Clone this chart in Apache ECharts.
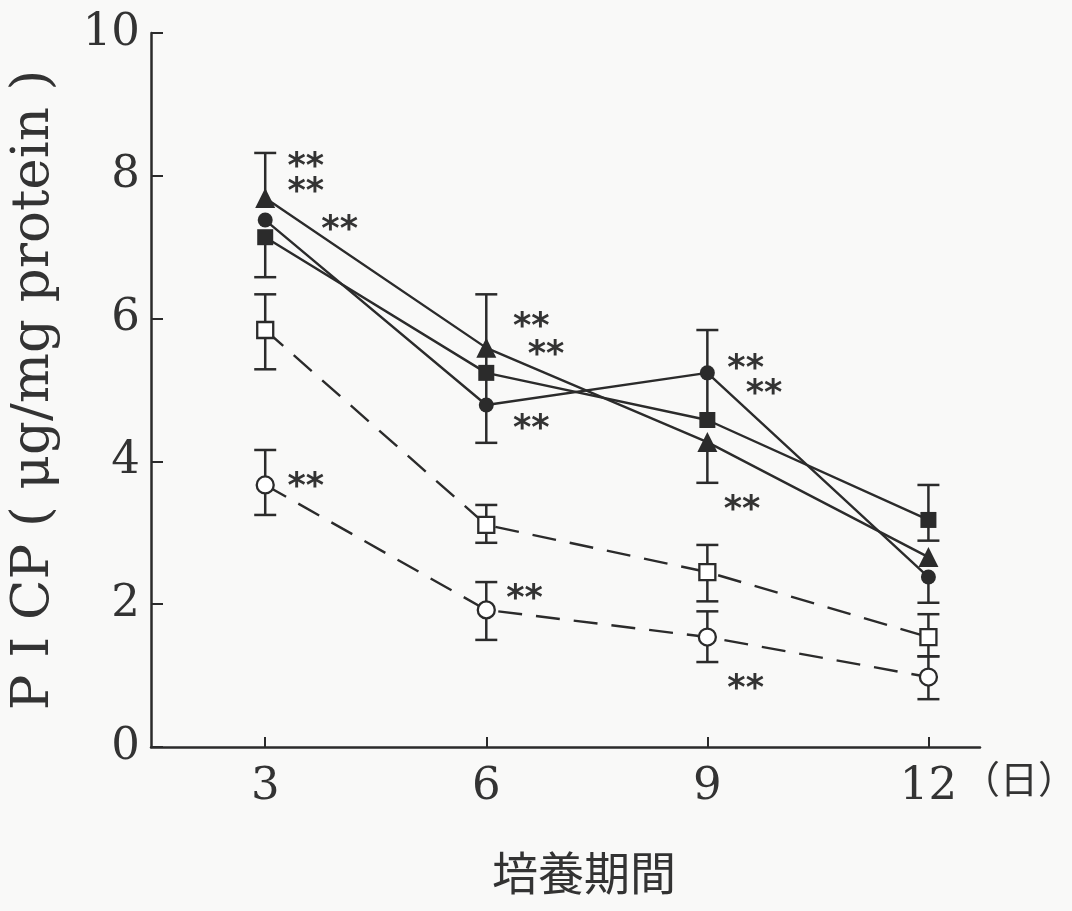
<!DOCTYPE html>
<html><head><meta charset="utf-8">
<script src="https://cdn.jsdelivr.net/npm/echarts@6/dist/echarts.min.js"></script>
<style>html,body{margin:0;padding:0;background:#f9f9f8}#c{width:1072px;height:911px}</style>
</head><body><div id="c"></div>
<script>
const days = [3, 6, 9, 12];
const xTicks = [3, 6, 9, 12];
const yTicks = [0, 2, 4, 6, 8, 10];
// series values (PICP, ug/mg protein)
const triFilled  = [7.69, 5.59, 4.27, 2.66];
const circFilled = [7.38, 4.79, 5.24, 2.38];
const sqFilled   = [7.14, 5.24, 4.58, 3.18];
const sqOpen     = [5.84, 3.11, 2.45, 1.54];
const circOpen   = [3.67, 1.92, 1.54, 0.98];
// error bar ends (as visible in the figure)
const triLow   = [7.69, 4.79, 3.70, 2.66];
const triHigh  = [8.32, 6.34, 4.27, 2.66];
const circLow  = [7.38, 4.26, 4.58, 2.02];
const circHigh = [7.38, 4.79, 5.84, 2.38];
const sqLow    = [6.58, 5.24, 4.58, 2.89];
const sqHigh   = [7.14, 5.24, 4.58, 3.67];
const sqOpenLow   = [5.29, 2.86, 2.04, 1.27];
const sqOpenHigh  = [6.34, 3.39, 2.83, 1.86];
const circOpenLow  = [3.25, 1.50, 1.19, 0.67];
const circOpenHigh = [4.16, 2.31, 1.90, 1.27];
// significance marks [x, y, text]
const marks = [
  [3.55, 8.22, '**'], [3.55, 7.87, '**'], [4.01, 7.34, '**'],
  [6.61, 5.98, '**'], [6.81, 5.59, '**'], [6.61, 4.55, '**'],
  [9.52, 5.39, '**'], [9.77, 5.04, '**'], [9.47, 3.42, '**'],
  [3.55, 3.74, '**'], [6.52, 2.17, '**'], [9.52, 0.91, '**']
];
const allVals = [triFilled, circFilled, sqFilled, sqOpen, circOpen];
const INK = '#2b2b2b';

function errData(vals, lo, hi) {
  return days.map((d, i) => {
    const others = allVals.map(a => a[i]);
    return [d, vals[i], lo[i], hi[i],
      (lo[i] < vals[i] && !others.includes(lo[i])) ? 1 : 0,
      (hi[i] > vals[i] && !others.includes(hi[i])) ? 1 : 0];
  });
}
function errSeries(vals, lo, hi) {
  return {
    type: 'custom', z: 1, silent: true,
    data: errData(vals, lo, hi),
    renderItem: function (params, api) {
      const x = api.value(0);
      const pLo = api.coord([x, api.value(2)]);
      const pHi = api.coord([x, api.value(3)]);
      const w = 11;
      const st = { stroke: INK, lineWidth: 2.5 };
      const ch = [{ type: 'line', shape: { x1: pLo[0], y1: pLo[1], x2: pHi[0], y2: pHi[1] }, style: st }];
      if (api.value(4)) ch.push({ type: 'line', shape: { x1: pLo[0] - w, y1: pLo[1], x2: pLo[0] + w, y2: pLo[1] }, style: st });
      if (api.value(5)) ch.push({ type: 'line', shape: { x1: pHi[0] - w, y1: pHi[1], x2: pHi[0] + w, y2: pHi[1] }, style: st });
      return { type: 'group', children: ch };
    }
  };
}
function lineSeries(vals, symbol, size, filled, dashed) {
  return {
    type: 'line', z: 3, silent: true,
    data: days.map((d, i) => [d, vals[i]]),
    symbol: symbol, symbolSize: size, showSymbol: true,
    itemStyle: { color: filled ? INK : '#ffffff', borderColor: INK, borderWidth: filled ? 0 : 2.3 },
    lineStyle: { color: INK, width: 2.4, type: dashed ? [24, 14] : 'solid' }
  };
}

const chart = echarts.init(document.getElementById('c'), null, { renderer: 'canvas' });
chart.setOption({
  backgroundColor: '#f9f9f8',
  animation: false,
  grid: { left: 148, right: 92, top: 33, bottom: 164 },
  xAxis: {
    type: 'value', min: 1.45, max: 12.7,
    axisLine: { show: true, onZero: false, lineStyle: { color: INK, width: 2.5 } },
    axisTick: { show: true, inside: true, length: 10, lineStyle: { color: INK, width: 2 }, customValues: xTicks },
    axisLabel: { customValues: xTicks, color: '#333', fontFamily: 'DejaVu Serif', fontSize: 45, margin: 18 },
    splitLine: { show: false }
  },
  yAxis: {
    type: 'value', min: 0, max: 10, interval: 2,
    name: 'P I CP ( μg/mg protein )', nameLocation: 'middle', nameGap: 90,
    nameTextStyle: { color: '#333', fontFamily: 'DejaVu Serif', fontSize: 53 },
    axisLine: { show: true, lineStyle: { color: INK, width: 2.5 } },
    axisTick: { show: true, inside: true, length: 12, lineStyle: { color: INK, width: 2 } },
    axisLabel: { color: '#333', fontFamily: 'DejaVu Serif', fontSize: 45, margin: 11,
      formatter: v => yTicks.includes(v) ? String(v) : '' },
    splitLine: { show: false }
  },
  graphic: [
    { type: 'text', left: 962, top: 760, style: { text: '（日）', fontFamily: 'Noto Sans CJK JP', fontSize: 38, fill: '#333' } },
    { type: 'text', left: 492, top: 850, style: { text: '培養期間', fontFamily: 'Noto Sans CJK JP', fontSize: 46, fill: '#333' } }
  ],
  series: [
    errSeries(triFilled, triLow, triHigh),
    errSeries(circFilled, circLow, circHigh),
    errSeries(sqFilled, sqLow, sqHigh),
    errSeries(sqOpen, sqOpenLow, sqOpenHigh),
    errSeries(circOpen, circOpenLow, circOpenHigh),
    lineSeries(sqOpen, 'rect', 16, false, true),
    lineSeries(circOpen, 'circle', 17, false, true),
    lineSeries(sqFilled, 'rect', 16, true, false),
    lineSeries(circFilled, 'circle', 15, true, false),
    lineSeries(triFilled, 'triangle', 20, true, false),
    {
      type: 'custom', z: 5, silent: true, data: marks,
      renderItem: function (params, api) {
        const p = api.coord([api.value(0), api.value(1)]);
        return { type: 'text', x: p[0], y: p[1] + 8,
          style: { text: marks[params.dataIndex][2], align: 'center', verticalAlign: 'middle',
            fontFamily: 'DejaVu Sans', fontWeight: 'bold', fontSize: 35, fill: '#333' } };
      }
    }
  ]
});
</script></body></html>
